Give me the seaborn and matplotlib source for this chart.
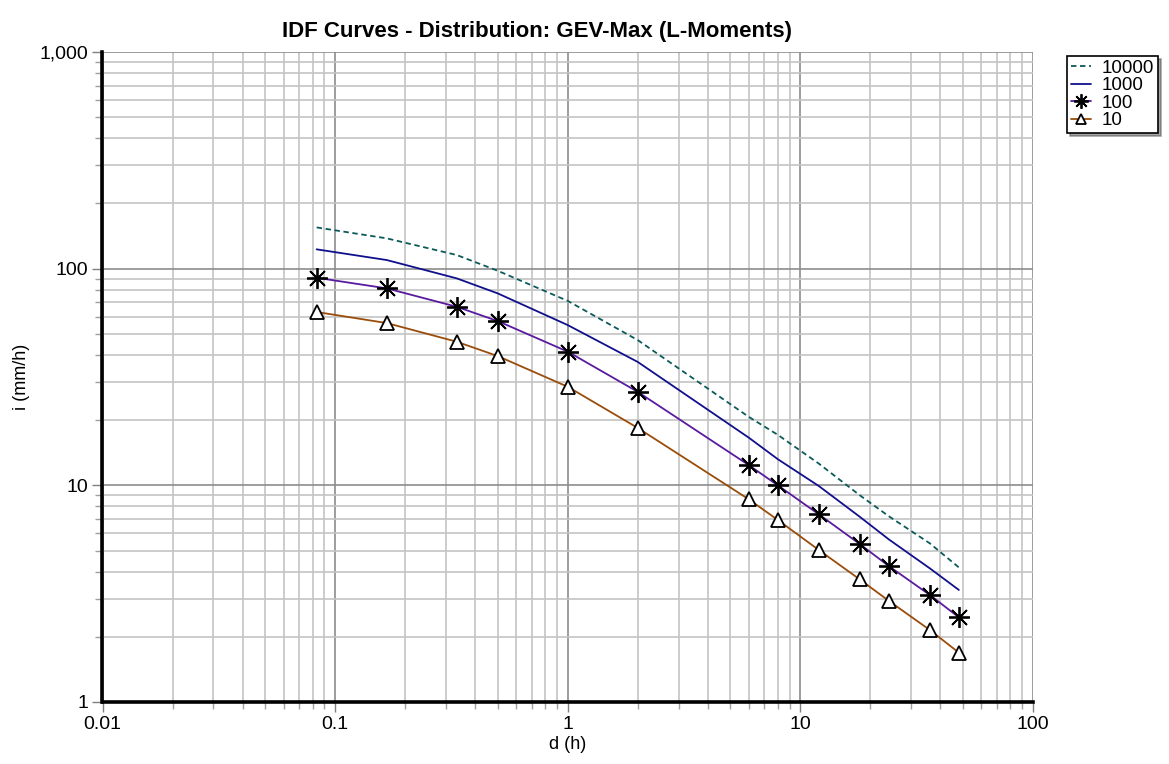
import numpy as np
import pandas as pd
import matplotlib
matplotlib.use("Agg")
import matplotlib.pyplot as plt
import seaborn as sns
from matplotlib.ticker import LogLocator, FuncFormatter, NullFormatter

# ---- data ----
durations = [0.0833, 0.1667, 0.3333, 0.5, 1, 2, 6, 8, 12, 18, 24, 36, 48]
i_10000 = [155, 138, 115.6, 97.8, 71.0, 46.8, 20.7, 17.1, 12.6, 9.0, 7.2, 5.4, 4.18]
i_1000 = [122.8, 109.6, 90.2, 76.9, 54.9, 37.1, 16.6, 13.2, 9.93, 7.16, 5.63, 4.14, 3.29]
i_100 = [90.8, 81.1, 66.7, 57.3, 41.4, 27.0, 12.4, 10.0, 7.35, 5.36, 4.24, 3.12, 2.46]
i_10 = [63.1, 56.1, 46.0, 39.5, 28.5, 18.4, 8.62, 6.92, 5.03, 3.68, 2.93, 2.15, 1.69]
return_periods = ["10000", "1000", "100", "10"]
x_ticks = [0.01, 0.1, 1, 10, 100]
y_ticks = [1, 10, 100, 1000]

series = {"10000": i_10000, "1000": i_1000, "100": i_100, "10": i_10}
df = pd.DataFrame(
    [(d, v, rp) for rp in return_periods for d, v in zip(durations, series[rp])],
    columns=["d", "i", "T"],
)

sns.set_style("white")
plt.rcParams["font.family"] = ["Liberation Sans", "DejaVu Sans"]
plt.rcParams["text.color"] = "black"
plt.rcParams["axes.labelcolor"] = "black"

fig = plt.figure(figsize=(11.69, 7.64), dpi=100)
ax = fig.add_axes([102.5 / 1169, 1 - 702 / 764, (1033 - 102.5) / 1169, (702 - 52) / 764])

styles = {
    "10000": dict(color="#0b5a5a", linestyle=(0, (3, 2)), marker=None),
    "1000": dict(color="#10108c", linestyle="-", marker=None),
    "100": dict(color="#5a1aa0", linestyle="-", marker=(8, 2, 0), markersize=15,
                markeredgecolor="black", markerfacecolor="black", markeredgewidth=1.3),
    "10": dict(color="#9a4d0a", linestyle="-", marker="^", markersize=9.5,
               markeredgecolor="black", markerfacecolor="white", markeredgewidth=1.3),
}

for rp in return_periods:
    sub = df[df["T"] == rp]
    sns.lineplot(data=sub, x="d", y="i", ax=ax, label=rp, linewidth=1.3,
                 zorder=3, **styles[rp])

ax.set_xscale("log")
ax.set_yscale("log")
ax.xaxis.set_minor_locator(LogLocator(base=10, subs=np.arange(2, 10), numticks=20))
ax.yaxis.set_minor_locator(LogLocator(base=10, subs=np.arange(2, 10), numticks=20))
ax.set_xticks(x_ticks)
ax.set_yticks(y_ticks)
ax.xaxis.set_major_formatter(FuncFormatter(lambda v, p: f"{v:g}"))
ax.yaxis.set_major_formatter(FuncFormatter(lambda v, p: f"{v:,.0f}"))
ax.xaxis.set_minor_formatter(NullFormatter())
ax.yaxis.set_minor_formatter(NullFormatter())
ax.set_xlim(0.01, 100)
ax.set_ylim(1, 1000)

ax.set_axisbelow(True)
ax.grid(which="major", color="#8c8c8c", linewidth=1.2)
ax.grid(which="minor", color="#c4c4c4", linewidth=1.2)

for s in ["top", "right"]:
    ax.spines[s].set_visible(False)
for s in ["left", "bottom"]:
    ax.spines[s].set_color("black")
    ax.spines[s].set_linewidth(2.6)
    ax.spines[s].set_zorder(4)

ax.tick_params(which="major", direction="out", length=7, width=1.0, color="#808080",
               labelsize=14, labelcolor="black", pad=3, left=True, bottom=True)
ax.tick_params(which="minor", direction="out", length=5, width=1.0, color="#a0a0a0",
               left=True, bottom=True)

ax.set_xlabel("d (h)", fontsize=13, labelpad=2)
ax.set_ylabel("i (mm/h)", fontsize=13, labelpad=7)

fig.text(537 / 1169, 1 - 31 / 764, "IDF Curves - Distribution: GEV-Max (L-Moments)",
         ha="center", va="center", fontsize=16, fontweight="bold", color="black")

handles, labels = ax.get_legend_handles_labels()
if ax.get_legend():
    ax.get_legend().remove()
leg = fig.legend(handles, labels, loc="upper left",
                 bbox_to_anchor=(1067 / 1169, 1 - 56 / 764),
                 frameon=True, fancybox=False, shadow=True, fontsize=13.5,
                 handlelength=1.1, handletextpad=0.55, borderpad=0.2,
                 labelspacing=0.02, borderaxespad=0, markerscale=0.7)
leg.get_frame().set_edgecolor("black")
leg.get_frame().set_linewidth(1.2)

fig.savefig("out.png", dpi=100)
